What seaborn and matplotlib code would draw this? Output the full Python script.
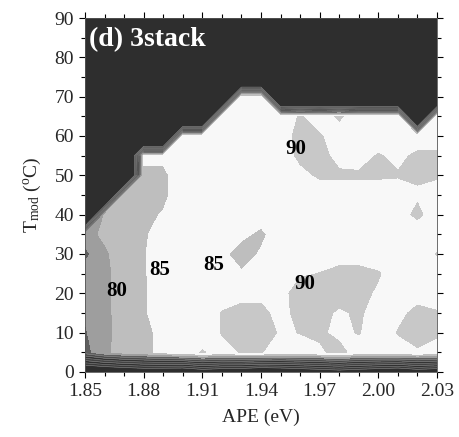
import numpy as np
import matplotlib
matplotlib.use("Agg")
import matplotlib.pyplot as plt
import seaborn as sns

# photon energy grid (eV) and module temperature grid (degC)
ape = [1.85, 1.86, 1.87, 1.88, 1.89, 1.90, 1.91, 1.92, 1.93, 1.94,
       1.95, 1.96, 1.97, 1.98, 1.99, 2.00, 2.01, 2.02, 2.03]
t_mod = [0, 5, 10, 15, 20, 25, 30, 35, 40, 45, 50, 55, 60, 65, 70, 75, 80, 85, 90]

# relative efficiency (%), one row per temperature, one column per APE value
eff_t00 = [30, 32, 34, 36, 35, 34, 38, 36, 35, 32, 34, 36, 38, 40, 38, 36, 34, 38, 36]
eff_t05 = [73, 79, 82, 83.5, 86.5, 88, 90.3, 88.5, 90.2, 90.2, 88, 88.5, 89.5, 91, 88.5, 88, 88.5, 89.8, 88.5]
eff_t10 = [74.5, 78.5, 82, 83.5, 86.5, 88, 88, 90.2, 92, 92, 89.5, 90.1, 90.5, 89.2, 90.2, 88, 90.2, 90.6, 90.5]
eff_t15 = [75.5, 78.5, 82.5, 84.5, 87, 87.5, 87.5, 90.2, 91.5, 91.5, 88, 92, 91, 89.5, 90.5, 88.5, 89, 91, 90.3]
eff_t20 = [76, 78.5, 82.5, 84.5, 87, 87.5, 87.5, 88, 88.5, 88.5, 88.5, 92, 92, 91.5, 91, 89.5, 88, 88.5, 88]
eff_t25 = [77.5, 78.5, 82.5, 84.6, 87, 87.5, 87.5, 86.5, 85.5, 87, 88, 89.5, 90.1, 91, 91, 90.3, 88, 88, 88]
eff_t30 = [73.5, 79, 83, 84.7, 87, 87.5, 87.5, 86, 83, 85.5, 87.5, 88, 88, 88.5, 88.5, 88, 87.5, 88, 90.2]
eff_t35 = [78, 81, 84, 84.5, 86.5, 87.5, 87.5, 87.5, 86, 84, 87.5, 87.5, 87.5, 87.5, 87.5, 87.5, 87.5, 87.5, 88]
eff_t40 = [0, 81, 84, 84, 85.3, 87.5, 87.5, 87.5, 87.5, 87, 87.5, 87.5, 87.5, 87.5, 87.5, 87.5, 88.5, 90.8, 88]
eff_t45 = [0, 0, 83.5, 84, 84, 87.5, 87.5, 87.5, 87.5, 87.5, 87.5, 88, 88, 88, 88, 88, 88, 89.5, 88]
eff_t50 = [0, 0, 0, 84, 84, 87.5, 87.5, 87.5, 87.5, 87.5, 87.5, 89, 90.5, 90.5, 90.5, 90.5, 90.3, 90.5, 90.5]
eff_t55 = [0, 0, 0, 86, 86, 87.5, 87.5, 87.5, 87.5, 87.5, 88, 90.8, 91, 89, 88.5, 90.3, 89, 90.8, 90.8]
eff_t60 = [0, 0, 0, 0, 0, 87, 87, 87.5, 87.5, 87.5, 88.5, 91, 90.3, 88.5, 88, 88, 88, 87.5, 88]
eff_t65 = [0, 0, 0, 0, 0, 0, 0, 87, 87.5, 87.5, 88, 90.3, 88.5, 90.5, 88, 88, 88, 0, 88]
eff_t70 = [0, 0, 0, 0, 0, 0, 0, 0, 87.5, 87.5, 0, 0, 0, 0, 0, 0, 0, 0, 0]
eff_t75 = [0] * 19
eff_t80 = [0] * 19
eff_t85 = [0] * 19
eff_t90 = [0] * 19

# contour levels and the fill shade of each band
levels = [0, 5, 10, 15, 20, 25, 30, 35, 40, 45, 50, 55, 60, 65, 70, 75, 80, 85, 90, 95]
band_colors = ["#2e2e2e", "#2e2e2e", "#2e2e2e", "#2e2e2e", "#2e2e2e", "#2e2e2e",
               "#2e2e2e", "#2e2e2e", "#2e2e2e", "#3a3a3a", "#303030", "#424242",
               "#343434", "#4a4a4a", "#5e5e5e", "#9e9e9e", "#bebebe", "#f8f8f8",
               "#c8c8c8"]
line_levels = [45, 50, 55, 60, 65, 70]

# contour labels: value and where it sits (APE, T)
label_values = [80, 85, 85, 90, 90]
label_ape = [1.866, 1.888, 1.916, 1.9625, 1.958]
label_t = [20.5, 26.0, 27.2, 22.4, 56.7]

sns.set_theme(style="ticks")
plt.rcParams["font.family"] = ["Liberation Serif", "DejaVu Serif"]
plt.rcParams["mathtext.fontset"] = "custom"
plt.rcParams["mathtext.rm"] = "Liberation Serif"
plt.rcParams["mathtext.it"] = "Liberation Serif:italic"
plt.rcParams["mathtext.bf"] = "Liberation Serif:bold"

eff = np.array([eff_t00, eff_t05, eff_t10, eff_t15, eff_t20, eff_t25, eff_t30,
                eff_t35, eff_t40, eff_t45, eff_t50, eff_t55, eff_t60, eff_t65,
                eff_t70, eff_t75, eff_t80, eff_t85, eff_t90], dtype=float)
X, Y = np.meshgrid(ape, t_mod)

fig = plt.figure(figsize=(4.59, 4.37), dpi=100)
ax = fig.add_axes([85 / 459, 65 / 437, 352 / 459, 354 / 437])

ax.contourf(X, Y, eff, levels=levels, colors=band_colors)
ax.contour(X, Y, eff, levels=line_levels, colors="#8c8c8c", linewidths=0.4)

for v, xa, yt in zip(label_values, label_ape, label_t):
    ax.text(xa, yt, f"{v:d}", ha="center", va="center", fontsize=15,
            fontweight="bold", color="black")

ax.text(0.012, 0.938, "(d) 3stack", transform=ax.transAxes, ha="left",
        va="center", fontsize=20, fontweight="bold", color="white")

ax.set_xlim(1.85, 2.03)
ax.set_ylim(0, 90)
ax.set_xticks([1.85, 1.88, 1.91, 1.94, 1.97, 2.00, 2.03])
ax.set_xticklabels(["1.85", "1.88", "1.91", "1.94", "1.97", "2.00", "2.03"])
ax.set_xticks(np.array(ape), minor=True)
ax.set_yticks(np.arange(0, 91, 10))
ax.set_yticks(np.array(t_mod), minor=True)
ax.tick_params(axis="both", which="both", direction="out", top=True, right=True,
               labelsize=14, color="black", width=0.8, pad=4)
ax.tick_params(which="major", length=4)
ax.tick_params(which="minor", length=3)
for s in ax.spines.values():
    s.set_linewidth(0.6)
    s.set_color("#555555")

ax.set_xlabel("APE (eV)", fontsize=14, labelpad=6)
ax.set_ylabel(r"T$_{\rm mod}$ ($^{\rm o}$C)", fontsize=14, labelpad=8)

fig.savefig("out.png", dpi=100)
